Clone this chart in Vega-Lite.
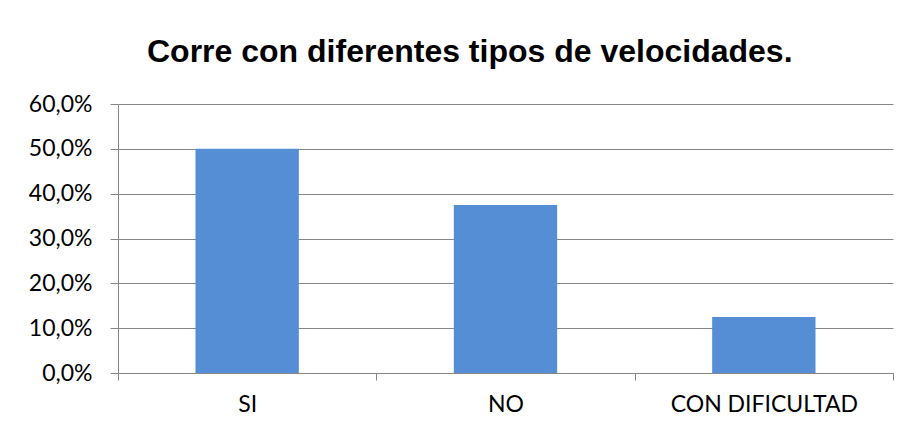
{
  "$schema": "https://vega.github.io/schema/vega-lite/v6.json",
  "width": 775,
  "height": 269,
  "autosize": {"type": "none"},
  "padding": {"left": 118, "top": 104, "right": 14, "bottom": 60},
  "background": "white",
  "title": {
    "text": "Corre con diferentes tipos de velocidades.",
    "font": "Liberation Sans",
    "fontSize": 32,
    "fontWeight": "bold",
    "color": "black",
    "anchor": "start",
    "frame": "group",
    "dx": 29,
    "baseline": "alphabetic",
    "offset": -1
  },
  "data": {
    "values": [
      {"respuesta": "SI", "porcentaje": 0.5},
      {"respuesta": "NO", "porcentaje": 0.375},
      {"respuesta": "CON DIFICULTAD", "porcentaje": 0.125}
    ]
  },
  "mark": {"type": "bar", "color": "#558ED5", "width": {"band": 0.4}},
  "encoding": {
    "x": {
      "field": "respuesta",
      "type": "nominal",
      "sort": null,
      "scale": {"paddingInner": 0, "paddingOuter": 0},
      "axis": {
        "title": null,
        "labelAngle": 0,
        "labelLimit": 0,
        "tickBand": "extent",
        "domainColor": "#868686",
        "tickColor": "#868686",
        "tickSize": 7,
        "labelPadding": 13,
        "labelFont": "Lato",
        "labelFontSize": 23,
        "labelColor": "black"
      }
    },
    "y": {
      "field": "porcentaje",
      "type": "quantitative",
      "scale": {"domain": [0, 0.6], "nice": false},
      "axis": {
        "title": null,
        "format": ".1%",
        "values": [0, 0.1, 0.2, 0.3, 0.4, 0.5, 0.6],
        "grid": true,
        "gridColor": "#868686",
        "domainColor": "#868686",
        "tickColor": "#868686",
        "tickSize": 8,
        "labelPadding": 18,
        "labelFont": "Lato",
        "labelFontSize": 23,
        "labelColor": "black"
      }
    }
  },
  "config": {
    "view": {"stroke": null},
    "locale": {"number": {"decimal": ",", "thousands": ".", "grouping": [3], "currency": ["", " €"]}}
  }
}
